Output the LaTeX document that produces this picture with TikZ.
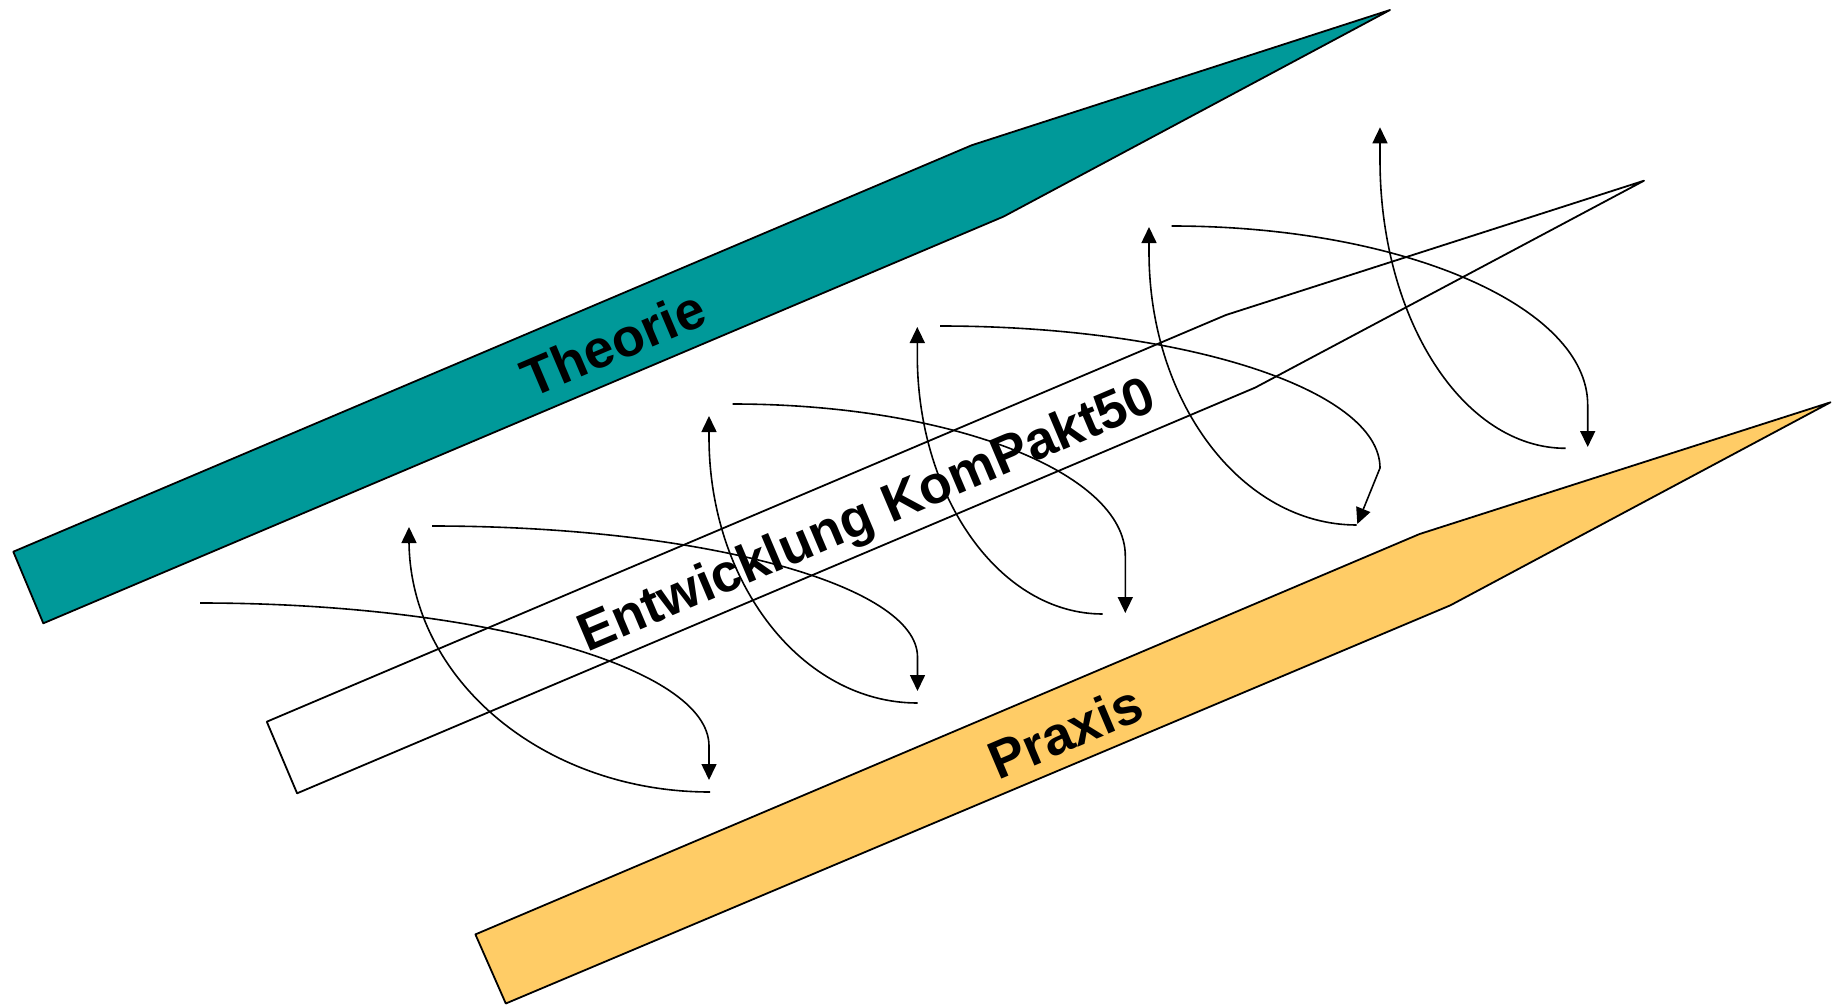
\documentclass[tikz,border=0pt]{standalone}
\usepackage{fontspec}
\setmainfont{Liberation Sans}
\usetikzlibrary{arrows.meta}
\definecolor{theoriecol}{RGB}{0,153,153}
\definecolor{praxiscol}{RGB}{255,204,102}
\begin{document}
\begin{tikzpicture}[x=1pt,y=-1pt,
  band/.style={draw=black,line width=1.8pt,line join=round},
  lbl/.style={font=\fontsize{53.5}{64}\selectfont\bfseries,rotate=23,inner sep=0pt},
  conn/.style={draw=black,line width=1.6pt,-{Triangle[length=16pt,width=15pt]}}]
\useasboundingbox (0,0) rectangle (1836,1006);
% bands
\draw[band,fill=theoriecol] (13.3,551.7) -- (971.8,145.2) -- (1390,10) -- (1003.5,216.6) -- (43.3,623.3) -- cycle;
\draw[band,fill=white] (266.8,721.7) -- (1225.9,315) -- (1644,180.7) -- (1255.2,387.6) -- (297.1,793.3) -- cycle;
\draw[band,fill=praxiscol] (475.4,934.4) -- (1419.6,534) -- (1830.5,402.3) -- (1450.4,605.3) -- (505.8,1003.5) -- cycle;
% labels
\node[lbl] (theorie) at (613,343) {Theorie};
\node[lbl] (entw) at (868,518) {Entwicklung KomPakt50};
\node[lbl] (praxis) at (1065,732) {Praxis};
% connector end points
\coordinate (d1s) at (200,603);   \coordinate (d1e) at (709,746);   \coordinate (d1t) at (709,780);
\coordinate (u1s) at (710,792);   \coordinate (u1e) at (409,540);   \coordinate (u1t) at (409,527);
\coordinate (d2s) at (432,526);   \coordinate (d2e) at (917.5,657); \coordinate (d2t) at (917.5,691);
\coordinate (u2s) at (917.5,703); \coordinate (u2e) at (709,437);   \coordinate (u2t) at (709,416);
\coordinate (d3s) at (732.5,404); \coordinate (d3e) at (1125.3,556); \coordinate (d3t) at (1125.3,613);
\coordinate (u3s) at (1102.7,614); \coordinate (u3e) at (917.3,355); \coordinate (u3t) at (917.3,327);
\coordinate (d4s) at (940,326);   \coordinate (d4e) at (1380,468);  \coordinate (d4t) at (1357.3,524);
\coordinate (u4s) at (1356.7,525); \coordinate (u4e) at (1149,252); \coordinate (u4t) at (1149,227);
\coordinate (d5s) at (1171.7,226); \coordinate (d5e) at (1587.7,405); \coordinate (d5t) at (1587.7,447);
\coordinate (u5s) at (1565.7,448.3); \coordinate (u5e) at (1380,160); \coordinate (u5t) at (1380,127.3);
% connectors
\draw[conn] (d1s) .. controls +(281.1,0) and +(0,-79.0) .. (d1e) -- (d1t);
\draw[conn] (u1s) .. controls +(-166.2,0) and +(0,139.2) .. (u1e) -- (u1t);
\draw[conn] (d2s) .. controls +(268.1,0) and +(0,-72.4) .. (d2e) -- (d2t);
\draw[conn] (u2s) .. controls +(-115.2,0) and +(0,146.9) .. (u2e) -- (u2t);
\draw[conn] (d3s) .. controls +(216.9,0) and +(0,-83.9) .. (d3e) -- (d3t);
\draw[conn] (u3s) .. controls +(-102.4,0) and +(0,143.0) .. (u3e) -- (u3t);
\draw[conn] (d4s) .. controls +(243,0) and +(0,-78.4) .. (d4e) -- (d4t);
\draw[conn] (u4s) .. controls +(-114.7,0) and +(0,150.8) .. (u4e) -- (u4t);
\draw[conn] (d5s) .. controls +(229.8,0) and +(0,-98.9) .. (d5e) -- (d5t);
\draw[conn] (u5s) .. controls +(-102.6,0) and +(0,159.2) .. (u5e) -- (u5t);
\end{tikzpicture}
\end{document}
